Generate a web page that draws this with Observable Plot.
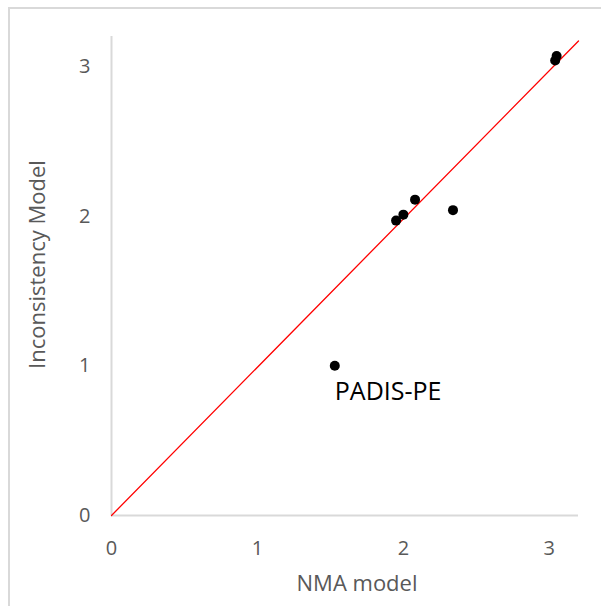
<!DOCTYPE html>
<html>
<head>
<meta charset="utf-8">
<script src="https://cdn.jsdelivr.net/npm/d3@7"></script>
<script src="https://cdn.jsdelivr.net/npm/@observablehq/plot@0.6"></script>
<style>
  html, body { margin: 0; padding: 0; background: #fff; }
  #wrap { position: relative; width: 601px; height: 606px; overflow: hidden; }
  #frame { position: absolute; left: 8px; top: 7px; width: 700px; height: 700px;
           border-left: 2px solid #d9d9d9; border-top: 2px solid #d9d9d9; }
  #chart { position: absolute; left: 0; top: 0; }
</style>
</head>
<body>
<div id="wrap"><div id="frame"></div><div id="chart"></div></div>
<script>
// Data
const nmaModel          = [1.53, 1.95, 2.00, 2.08, 2.34, 3.04, 3.05];
const inconsistencyModel = [1.00, 1.97, 2.01, 2.11, 2.04, 3.04, 3.07];
const pointLabels       = ["PADIS-PE", "", "", "", "", "", ""];
const xTicks = [0, 1, 2, 3];
const yTicks = [0, 1, 2, 3];
const lineX = [0, 3.2];
const lineY = [0, 3.17];

const points = nmaModel.map((x, i) => ({x, y: inconsistencyModel[i], label: pointLabels[i]}));
const refLine = lineX.map((x, i) => ({x, y: lineY[i]}));

const font = "'Open Sans', sans-serif";

const chart = Plot.plot({
  width: 601,
  height: 606,
  marginLeft: 111,
  marginRight: 23,
  marginTop: 36,
  marginBottom: 91,
  style: {fontFamily: font, color: "#595959", background: "transparent", overflow: "visible"},
  x: {domain: [0, 3.2]},
  y: {domain: [0, 3.2]},
  marks: [
    Plot.ruleY([0], {stroke: "#d9d9d9", strokeWidth: 2}),
    Plot.ruleX([0], {stroke: "#d9d9d9", strokeWidth: 2}),
    Plot.axisX({ticks: xTicks, tickSize: 0, tickPadding: 25, fontSize: 20, label: null, tickFormat: d3.format("d")}),
    Plot.axisY({ticks: yTicks, tickSize: 0, tickPadding: 21, fontSize: 20, label: null, tickFormat: d3.format("d")}),
    Plot.text(["NMA model"], {frameAnchor: "bottom", textAnchor: "middle", lineAnchor: "middle", dx: 12, dy: 68, fontSize: 22, fill: "#595959"}),
    Plot.text(["Inconsistency Model"], {frameAnchor: "left", textAnchor: "middle", lineAnchor: "middle", dx: -74, dy: -11.5, rotate: -90, fontSize: 22, fill: "#595959"}),
    Plot.line(refLine, {x: "x", y: "y", stroke: "#ff0000", strokeWidth: 1.3}),
    Plot.dot(points, {x: "x", y: "y", r: 5, fill: "#000", stroke: "none"}),
    Plot.text(points.filter(d => d.label), {x: "x", y: "y", text: "label", textAnchor: "start", lineAnchor: "middle", dx: 0, dy: 26, fontSize: 25, fill: "#000"})
  ]
});
document.getElementById("chart").appendChild(chart);
</script>
</body>
</html>
